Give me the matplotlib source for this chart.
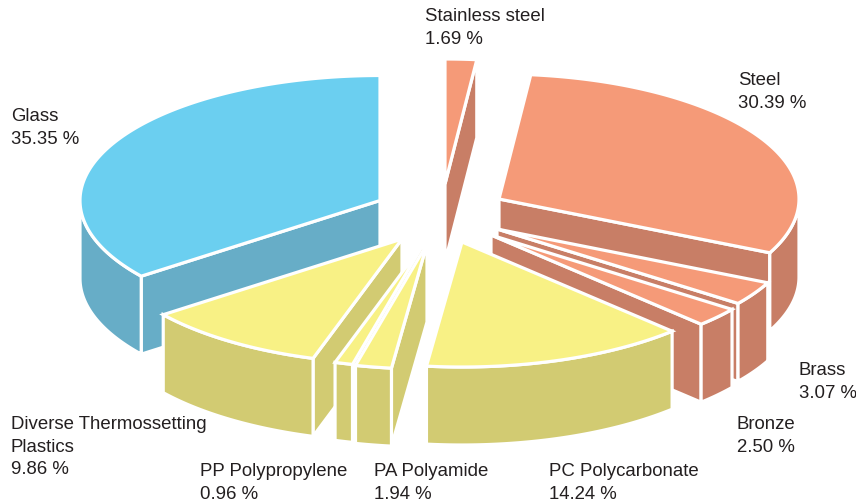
import numpy as np
import matplotlib
matplotlib.use('Agg')
import matplotlib.pyplot as plt
from matplotlib.patches import Polygon

plt.rcParams['font.family'] = ['Liberation Sans', 'DejaVu Sans']

# dados do grafico, sentido horario a partir do topo
labels = ['Stainless steel', 'Steel', 'Brass', 'Bronze', 'PC Polycarbonate',
          'PA Polyamide', 'PP Polypropylene',
          'Diverse Thermossetting\nPlastics', 'Glass']
values = [1.69, 30.39, 3.07, 2.50, 14.24, 1.94, 0.96, 9.86, 35.35]
groups = ['metal', 'metal', 'metal', 'metal', 'plastic', 'plastic', 'plastic', 'plastic', 'glass']

# cores (topo, lateral)
top_colors = {'metal': '#F59A78', 'plastic': '#F8F185', 'glass': '#6BCFF0'}
side_colors = {'metal': '#C87E66', 'plastic': '#D2CB72', 'glass': '#67ADC7'}

# centro de cada fatia depois de explodir, em pixels
centers = [(445, 184), (499, 199), (497, 229), (491, 235), (462, 242),
           (427, 244), (424, 243), (402, 239), (380, 200.5)]
label_pos = [(425, 28), (738, 92), (799, 382), (737, 436), (549, 483),
             (374, 483), (200, 483), (11, 447), (11, 128)]

RX, RY, DEPTH = 300, 125, 78
draw_order = [8, 0, 1, 2, 3, 7, 6, 5, 4]


def rim(cx, cy, a0, a1):
    t = np.radians(np.linspace(a0, a1, max(int(abs(a1 - a0) * 2), 2)))
    return np.column_stack([cx + RX * np.sin(t), cy - RY * np.cos(t)])


def face(ax, pts, color):
    ax.add_patch(Polygon(pts, closed=True, facecolor=color, edgecolor='white',
                         linewidth=2.3, joinstyle='miter'))


fig = plt.figure(figsize=(8.56, 5.01), dpi=100)
ax = fig.add_axes([0, 0, 1, 1])
ax.set_xlim(0, 856)
ax.set_ylim(501, 0)
ax.axis('off')

ends = np.cumsum(values) / np.sum(values) * 360
starts = ends - np.array(values) / np.sum(values) * 360

for i in draw_order:
    cx, cy = centers[i]
    a0, a1 = starts[i], ends[i]
    top = top_colors[groups[i]]
    side = side_colors[groups[i]]
    down = np.array([0, DEPTH])
    center = np.array([cx, cy])

    # faces de corte visiveis
    if 0 < a1 < 180:
        p = rim(cx, cy, a1, a1)[0]
        face(ax, [center, p, p + down, center + down], side)
    if 180 < a0 < 360:
        p = rim(cx, cy, a0, a0)[0]
        face(ax, [center, p, p + down, center + down], side)

    # lateral externa
    b0, b1 = max(a0, 90), min(a1, 270)
    if b1 > b0:
        arc = rim(cx, cy, b0, b1)
        face(ax, np.vstack([arc, arc[::-1] + down]), side)

    # topo
    face(ax, np.vstack([center, rim(cx, cy, a0, a1)]), top)

for name, v, (x, y) in zip(labels, values, label_pos):
    ax.text(x, y, f'{name}\n{v:.2f} %', fontsize=13.4, color='#231F20',
            ha='left', va='center', linespacing=1.39)

fig.savefig('out.png', dpi=100)
